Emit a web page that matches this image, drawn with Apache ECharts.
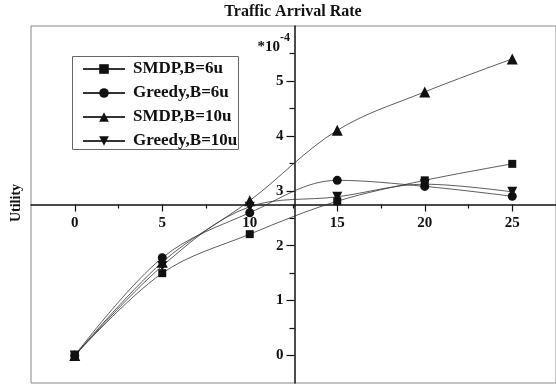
<!DOCTYPE html>
<html>
<head>
<meta charset="utf-8">
<script src="https://cdn.jsdelivr.net/npm/echarts@6/dist/echarts.min.js"></script>
<style>html,body{margin:0;padding:0;background:#fff;}#c{width:556px;height:385px;}</style>
</head>
<body>
<div id="c"></div>
<script>
var xValues = [0, 5, 10, 15, 20, 25];
var smdp6 = [0, 1.50, 2.21, 2.81, 3.19, 3.49];
var greedy6 = [0, 1.78, 2.60, 3.19, 3.08, 2.90];
var smdp10 = [0, 1.70, 2.82, 4.10, 4.80, 5.40];
var greedy10 = [0, 1.63, 2.71, 2.89, 3.12, 2.98];
var seriesNames = ['SMDP,B=6u', 'Greedy,B=6u', 'SMDP,B=10u', 'Greedy,B=10u'];
var xTickLabels = [0, 5, 10, 15, 20, 25];
var xMinorTicks = [2.5, 7.5, 12.5, 17.5, 22.5];
var yTickLabels = [0, 1, 2, 3, 4, 5];
var yMinorTicks = [0.5, 1.5, 2.5, 3.5, 4.5, 5.5];

var FONT = '"Liberation Serif", "Times New Roman", serif';
var chart = echarts.init(document.getElementById('c'), null, {renderer: 'canvas'});

function pairs(ys) { return xValues.map(function (x, i) { return [x, ys[i]]; }); }
function mk(name, ys, symbol, size, rot) {
  return {
    name: name, type: 'line', data: pairs(ys), smooth: 0.35,
    symbol: symbol, symbolSize: size, symbolRotate: rot || 0,
    itemStyle: {color: '#111'},
    lineStyle: {color: '#333', width: 0.8},
    z: 3
  };
}

var xMin = -2.5, xMax = 27.5, yMin = -0.5, yMax = 6;
var gridLeft = 31, gridTop = 26, gridRight = -2, gridBottom = 2;
var W = 556, H = 385;
var gw = W - gridLeft - gridRight, gh = H - gridTop - gridBottom;
var yCross = 2.75, xCross = 12.5;
var xOffset = -((yCross - yMin) / (yMax - yMin)) * gh;
var yOffset = -((xCross - xMin) / (xMax - xMin)) * gw;

var axisBase = {
  type: 'value', splitLine: {show: false}
};

chart.setOption({
  animation: false,
  backgroundColor: '#fff',
  grid: {left: gridLeft, top: gridTop, right: gridRight, bottom: gridBottom,
    show: true, borderColor: '#888', borderWidth: 1, backgroundColor: 'transparent'},
  legend: {
    left: 82, top: 59, orient: 'vertical', padding: 0, itemGap: 4,
    itemWidth: 42, itemHeight: 12,
    data: seriesNames,
    textStyle: {fontFamily: FONT, fontWeight: 'bold', fontSize: 17, color: '#111', lineHeight: 20, padding: [0, 0, 0, 3]}
  },
  xAxis: [
    Object.assign({}, axisBase, {
      min: xMin, max: xMax, position: 'bottom', offset: xOffset,
      axisLine: {onZero: false, lineStyle: {color: '#111', width: 1.5}},
      axisTick: {show: true, inside: false, length: 7, customValues: xTickLabels, lineStyle: {color: '#111', width: 1.2}},
      axisLabel: {customValues: xTickLabels, margin: 11, fontFamily: FONT, fontWeight: 'bold', fontSize: 15, color: '#111'}
    }),
    Object.assign({}, axisBase, {
      min: xMin, max: xMax, position: 'bottom', offset: xOffset,
      axisLine: {show: false, onZero: false},
      axisTick: {show: true, length: 4, customValues: xMinorTicks, lineStyle: {color: '#111', width: 1.2}},
      axisLabel: {show: false}
    })
  ],
  yAxis: [
    Object.assign({}, axisBase, {
      min: yMin, max: yMax, position: 'left', offset: yOffset,
      axisLine: {show: true, onZero: false, lineStyle: {color: '#111', width: 1.5}},
      axisTick: {show: true, length: 8, customValues: yTickLabels, lineStyle: {color: '#111', width: 1.2}},
      axisLabel: {customValues: yTickLabels, margin: 11, fontFamily: FONT, fontWeight: 'bold', fontSize: 15, color: '#111'}
    }),
    Object.assign({}, axisBase, {
      min: yMin, max: yMax, position: 'left', offset: yOffset,
      axisLine: {show: false, onZero: false},
      axisTick: {show: true, length: 5, customValues: yMinorTicks, lineStyle: {color: '#111', width: 1.2}},
      axisLabel: {show: false}
    })
  ],
  graphic: [
    {type: 'text', x: 293, y: 12, style: {text: 'Traffic Arrival Rate', fontFamily: FONT, fontWeight: 'bold', fontSize: 16, fill: '#111', align: 'center', verticalAlign: 'middle'}},
    {type: 'rect', shape: {x: 72.5, y: 56.5, width: 166, height: 93}, style: {fill: 'none', stroke: '#666', lineWidth: 1}, z: 1},
    {type: 'text', x: 16, y: 203, rotation: Math.PI / 2, style: {text: 'Utility', fontFamily: FONT, fontWeight: 'bold', fontSize: 14, fill: '#111', align: 'center', verticalAlign: 'middle'}},
    {type: 'text', x: 280, y: 47, style: {text: '*10', fontFamily: FONT, fontWeight: 'bold', fontSize: 15, fill: '#111', align: 'right', verticalAlign: 'middle'}},
    {type: 'text', x: 280, y: 38, style: {text: '-4', fontFamily: FONT, fontWeight: 'bold', fontSize: 12, fill: '#111', align: 'left', verticalAlign: 'middle'}}
  ],
  series: [
    mk(seriesNames[0], smdp6, 'rect', 8),
    mk(seriesNames[1], greedy6, 'circle', 9),
    mk(seriesNames[2], smdp10, 'triangle', 11),
    mk(seriesNames[3], greedy10, 'triangle', 10, 180)
  ]
});
</script>
</body>
</html>
